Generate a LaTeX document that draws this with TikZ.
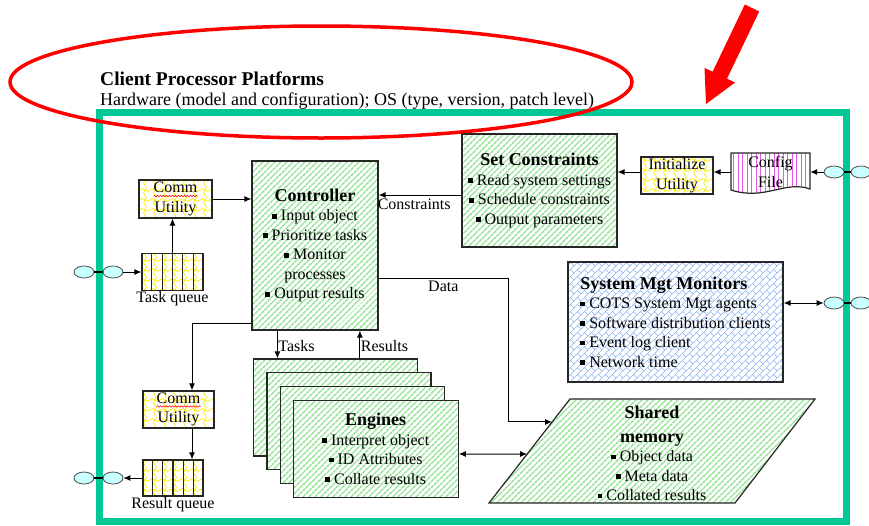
\documentclass[tikz,border=0pt]{standalone}
\usepackage{fontspec}
\setmainfont{Liberation Serif}
\usetikzlibrary{patterns,patterns.meta,arrows.meta,shapes.geometric,calc,decorations.pathmorphing}

\pgfdeclarepatternformonly{ywaves}{\pgfqpoint{-1pt}{-1pt}}{\pgfqpoint{11pt}{11pt}}{\pgfqpoint{10pt}{10pt}}{%
  \pgfsetlinewidth{0.7pt}%
  \pgfpathmoveto{\pgfqpoint{0pt}{5pt}}%
  \pgfpathcurveto{\pgfqpoint{3pt}{10pt}}{\pgfqpoint{7pt}{0pt}}{\pgfqpoint{10pt}{5pt}}%
  \pgfpathmoveto{\pgfqpoint{5pt}{0pt}}%
  \pgfpathcurveto{\pgfqpoint{0pt}{3pt}}{\pgfqpoint{10pt}{7pt}}{\pgfqpoint{5pt}{10pt}}%
  \pgfusepath{stroke}}

\pgfdeclarepatternformonly{dbrick}{\pgfqpoint{-1pt}{-1pt}}{\pgfqpoint{8pt}{8pt}}{\pgfqpoint{7pt}{7pt}}{%
  \pgfsetlinewidth{0.6pt}%
  \pgfpathmoveto{\pgfqpoint{0pt}{0pt}}%
  \pgfpathlineto{\pgfqpoint{7pt}{7pt}}%
  \pgfpathmoveto{\pgfqpoint{3.5pt}{3.5pt}}%
  \pgfpathlineto{\pgfqpoint{7pt}{0pt}}%
  \pgfusepath{stroke}}

\definecolor{tealf}{RGB}{0,200,150}
\definecolor{hgreen}{RGB}{140,225,140}
\definecolor{yelc}{RGB}{255,235,0}
\definecolor{pinkl}{RGB}{230,90,230}
\definecolor{bluel}{RGB}{140,180,245}
\definecolor{ovalc}{RGB}{200,255,255}

\newcommand\bodyfont{\fontsize{16}{19.5}\selectfont}
\newcommand\titfont{\fontsize{18}{20}\selectfont\bfseries}
\newcommand\bul{\raisebox{0.3ex}{\rule{0.3em}{0.3em}}\hspace{0.25em}}

\begin{document}
\begin{tikzpicture}[x=1pt,y=-1pt,
  box/.style={draw=black!85, line width=1.2pt, inner sep=0pt, align=center, font=\bodyfont},
  gbox/.style={box, preaction={fill=white}, preaction={pattern={Lines[angle=45,distance=4pt,line width=1.6pt]}, pattern color=hgreen}},
  ybox/.style={box, preaction={fill=white}, preaction={pattern=ywaves, pattern color=yelc}},
  bbox/.style={box, preaction={fill=white}, preaction={pattern=dbrick, pattern color=bluel}},
  pbox/.style={draw=black!85, line width=1.2pt, preaction={fill=white}, preaction={pattern={Lines[angle=90,distance=4.5pt,line width=0.9pt]}, pattern color=pinkl}},
  gpath/.style={draw=black!85, line width=1.2pt, preaction={fill=white}, preaction={pattern={Lines[angle=45,distance=4pt,line width=1.6pt]}, pattern color=hgreen}},
  arr/.style={-{Latex[length=7pt,width=6pt]}, line width=1pt},
  darr/.style={{Latex[length=7pt,width=6pt]}-{Latex[length=7pt,width=6pt]}, line width=1pt},
  oval/.style={ellipse, draw=black!70, line width=0.8pt, fill=ovalc, minimum width=20pt, minimum height=12pt, inner sep=0pt},
  lbl/.style={font=\bodyfont, inner sep=1.5pt},
  squig/.style={red, line width=0.5pt, decorate, decoration={snake, amplitude=0.8pt, segment length=3pt}}
]
\useasboundingbox (0,0) rectangle (869,525);

% frame
\draw[tealf, line width=7pt] (99,112) rectangle (846,521);

% header texts
\node[anchor=base west, font=\fontsize{19.5}{22}\selectfont\bfseries, inner sep=0pt] (ttl) at (100,85) {Client Processor Platforms};
\node[anchor=base west, font=\fontsize{18}{22}\selectfont, inner sep=0pt] (sub) at (100,105) {Hardware (model and configuration); OS (type, version, patch level)};

% red ellipse and arrow
\draw[red, line width=3.5pt] (321,82) ellipse [x radius=311pt, y radius=56pt];
\fill[red] (759.2,11.5) -- (727,78.7) -- (735.1,82.5) -- (706,104) -- (704.5,67.9) -- (712.6,71.7) -- (744.8,4.5) -- cycle;

% left top
\node[ybox, minimum width=73pt, minimum height=38pt] (commT) at (175.5,199) {Comm\\Utility};
\node[ybox, minimum width=61pt, minimum height=37pt] (taskq) at (172.5,272) {};
\foreach \i in {1,...,5}
  \draw[line width=1.2pt, black!85] ($(taskq.north west)!\i/6!(taskq.north east)$) -- ($(taskq.south west)!\i/6!(taskq.south east)$);
\node[lbl, anchor=north, inner sep=0.5pt] (tql) at (taskq.south) {Task queue};

% left bottom
\node[ybox, minimum width=71pt, minimum height=37pt] (commB) at (178.5,409.5) {Comm\\Utility};
\node[ybox, minimum width=60pt, minimum height=36pt] (resq) at (173,478) {};
\foreach \i in {1,...,5}
  \draw[line width=1.2pt, black!85] ($(resq.north west)!\i/6!(resq.north east)$) -- ($(resq.south west)!\i/6!(resq.south east)$);
\node[lbl, anchor=north, inner sep=0.5pt] (rql) at (resq.south) {Result queue};

\draw[squig] ($(commT.center)+(-22,-3)$) -- ($(commT.center)+(22,-3)$);
\draw[squig] ($(commB.center)+(-22,-3)$) -- ($(commB.center)+(22,-3)$);

% controller
\node[gbox, minimum width=126pt, minimum height=169pt] (ctrl) at (315,245.5)
  {{\titfont Controller}\\ \bul Input object\\ \bul Prioritize tasks\\ \bul Monitor\\ processes\\ \bul Output results};

% set constraints
\node[gbox, minimum width=155pt, minimum height=113pt] (setc) at (539.5,190.5)
  {{\titfont Set Constraints}\\ \bul Read system settings\\ \bul Schedule constraints\\ \bul Output parameters};

\node[ybox, minimum width=72pt, minimum height=37pt] (init) at (677,175.5) {Initialize\\Utility};

% config file
\draw[pbox] (731,153) -- (810,153) -- (810,189) .. controls (785,180) and (765,201) .. (731,190) -- cycle;
\node[font=\bodyfont, align=center, inner sep=0pt, minimum width=79pt, minimum height=38pt] (cfg) at (770.5,172) {Config\\File};

% system mgt
\node[bbox, align=left, minimum width=215pt, minimum height=120pt] (sysm) at (675.5,322)
  {{\titfont System Mgt Monitors}\\ \bul COTS System Mgt agents\\ \bul Software distribution clients\\ \bul Event log client\\ \bul Network time};

% engines
\node[gbox, minimum width=164pt, minimum height=97pt] (eng1) at (335.5,407.5) {};
\node[gbox, minimum width=164pt, minimum height=97pt] (eng2) at (348.9,421.2) {};
\node[gbox, minimum width=164pt, minimum height=97pt] (eng3) at (362.3,434.9) {};
\node[gbox, minimum width=165pt, minimum height=97pt] (eng4) at (375.7,448.6)
  {{\titfont Engines}\\ \bul Interpret object\\ \bul ID Attributes\\ \bul Collate results};

% shared memory
\coordinate (shBL) at (489,503);
\coordinate (shTL) at (570,399);
\coordinate (shTR) at (815,399);
\coordinate (shBR) at (735,503);
\draw[gpath] (shBL) -- (shTL) -- (shTR) -- (shBR) -- cycle;
\node[font=\bodyfont, align=center, inner sep=0pt, anchor=north] (shm) at (652,406)
  {{\titfont Shared}\\[4pt] {\titfont memory}\\ \bul Object data\\ \bul Meta data\\ \bul Collated results};

% ovals
\node[oval] (oL1) at (84,272) {};
\node[oval] (oL2) at (113,272) {};
\node[oval] (oB1) at (84,478) {};
\node[oval] (oB2) at (113,478) {};
\node[oval] (oR1) at (834,172) {};
\node[oval] (oR2) at (861,172) {};
\node[oval] (oS1) at (834,303) {};
\node[oval] (oS2) at (861,303) {};
\foreach \a/\b in {oL1/oL2, oB1/oB2, oR1/oR2, oS1/oS2}
  \draw[line width=2.5pt] (\a) -- (\b);

% connectors
\draw[arr] (oL2.east) -- (taskq.west);
\draw[arr] (taskq.north) -- (taskq.north |- commT.south);
\draw[arr] (commT.east) -- (commT.east -| ctrl.west);

\coordinate (cb1) at ([yshift=-77.5pt]ctrl.west);
\coordinate (cb2) at ([xshift=13.5pt]commB.north);
\draw[arr] (cb1) -| (cb2);
\coordinate (cb3) at ([xshift=13.5pt]commB.south);
\draw[arr] (cb3) -- (cb3 |- resq.north);
\draw[arr] (resq.west) -- (oB2.east);

\coordinate (tk1) at ([xshift=26pt]ctrl.south west);
\draw[arr] (tk1) -- (tk1 |- eng1.north) node[lbl, pos=0.55, right, inner sep=0.5pt] {Tasks};
\coordinate (rs1) at ([xshift=107pt]eng1.north west);
\draw[arr] (rs1) -- (rs1 |- ctrl.south) node[lbl, pos=0.45, right, inner sep=0.5pt] {Results};

\coordinate (cs1) at ([yshift=-4.5pt]setc.west);
\draw[arr] (cs1) -- (cs1 -| ctrl.east) node[lbl, pos=0.57, below, inner sep=3pt] {Constraints};
\coordinate (is1) at ([yshift=3.5pt]init.west);
\draw[arr] (is1) -- (is1 -| setc.east);
\draw[arr] (cfg.west) -- (cfg.west -| init.east);
\draw[arr] (oR1.west) -- (cfg.east);

\coordinate (sm1) at ([yshift=19pt]sysm.east);
\draw[darr] (sm1) -- (oS1.west);

\coordinate (dt1) at ([yshift=-32.5pt]ctrl.east);
\coordinate (dtc) at (508,300);
\coordinate (shE) at ($(shBL)!0.779!(shTL)$);
\draw[arr] (dt1) -- (dt1 -| dtc) node[lbl, pos=0.5, below, inner sep=3pt] {Data} -- (dtc |- shE) -- (shE);

\coordinate (en1) at ([yshift=-5.4pt]eng4.east);
\coordinate (shE2) at ($(shBL)!0.471!(shTL)$);
\draw[darr] (en1) -- (shE2);
\end{tikzpicture}
\end{document}
